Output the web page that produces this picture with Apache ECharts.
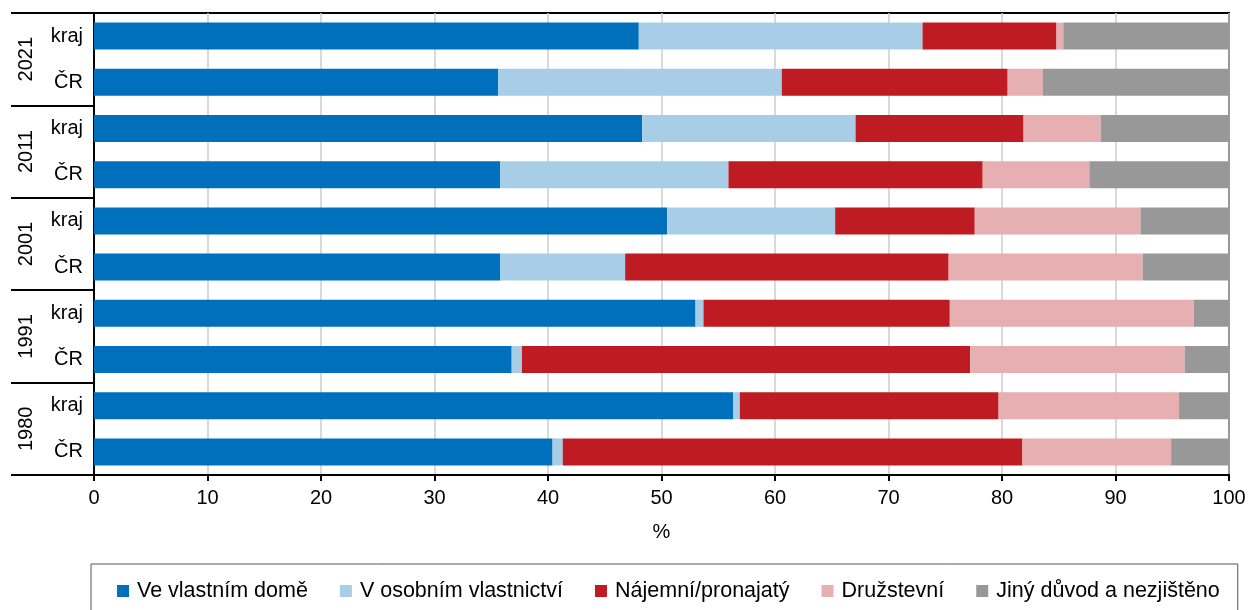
<!DOCTYPE html>
<html>
<head>
<meta charset="utf-8">
<script src="https://cdn.jsdelivr.net/npm/echarts@6/dist/echarts.min.js"></script>
<style>
  html, body { margin: 0; padding: 0; background: #fff; }
  #chart { width: 1248px; height: 610px; }
</style>
</head>
<body>
<div id="chart"></div>
<script>
// roky a uzemi (kazdy rok ma radek kraj a CR)
const years = ['2021', '2011', '2001', '1991', '1980'];
const regions = ['kraj', 'ČR'];

// podil v % podle pravniho duvodu uzivani bytu
const vlastniDum = [48.0, 35.6, 48.3, 35.8, 50.5, 35.8, 53.0, 36.8, 56.3, 40.4];
const osobniVlastnictvi = [25.0, 25.0, 18.8, 20.1, 14.8, 11.0, 0.7, 0.9, 0.6, 0.9];
const najemni = [11.8, 19.9, 14.8, 22.4, 12.3, 28.5, 21.7, 39.5, 22.8, 40.5];
const druzstevni = [0.6, 3.1, 6.8, 9.4, 14.6, 17.1, 21.5, 18.9, 15.9, 13.1];
const jiny = [14.6, 16.4, 11.3, 12.3, 7.8, 7.6, 3.1, 3.9, 4.4, 5.1];

const seriesNames = ['Ve vlastním domě', 'V osobním vlastnictví', 'Nájemní/pronajatý', 'Družstevní', 'Jiný důvod a nezjištěno'];
const seriesColors = ['#0070BD', '#A7CDE7', '#BE1B22', '#E6AFB2', '#989898'];

const font = 'Liberation Sans, Arial, sans-serif';

// kategorie "rok|uzemi", zobrazi se jen uzemi
let categories = [];
years.forEach(y => {
  regions.forEach(r => categories.push(y + '|' + r));
});

function makeSeries(name, values, color) {
  return {
    name: name,
    type: 'bar',
    stack: 'total',
    yAxisIndex: 0,
    barWidth: 27,
    itemStyle: { color: color },
    emphasis: { disabled: true },
    data: values
  };
}

var chart = echarts.init(document.getElementById('chart'), null, { renderer: 'canvas' });

var option = {
  animation: false,
  textStyle: { fontFamily: font },
  grid: {
    left: 94,
    right: 19,
    top: 13,
    bottom: 135,
    show: true,
    borderColor: '#000',
    borderWidth: 2,
    outerBoundsMode: 'none'
  },
  legend: {
    left: 91,
    top: 564,
    width: 1150,
    padding: [16, 18, 22, 26],
    itemGap: 32,
    itemWidth: 12,
    itemHeight: 12,
    icon: 'rect',
    borderColor: '#555',
    borderWidth: 1,
    selectedMode: false,
    textStyle: { fontSize: 21.5, color: '#000', fontFamily: font, padding: [0, 0, 0, 3] },
    data: seriesNames
  },
  xAxis: {
    type: 'value',
    min: 0,
    max: 100,
    interval: 10,
    name: '%',
    nameLocation: 'middle',
    nameGap: 47,
    nameTextStyle: { fontSize: 20, color: '#000', fontFamily: font },
    axisLine: { show: true, lineStyle: { color: '#000', width: 2 } },
    axisTick: { show: true, length: 6, lineStyle: { color: '#000', width: 2 } },
    axisLabel: { fontSize: 20, color: '#000', margin: 13, fontFamily: font },
    splitLine: { show: true, lineStyle: { color: '#cccccc', width: 1.5 } }
  },
  yAxis: [
    {
      type: 'category',
      inverse: true,
      data: categories,
      axisLine: { show: true, lineStyle: { color: '#000', width: 2 } },
      axisTick: { show: false },
      axisLabel: {
        fontSize: 20,
        color: '#000',
        margin: 11,
        fontFamily: font,
        formatter: v => v.split('|')[1]
      }
    },
    {
      // roky - otocene popisky a oddelovaci cary mezi skupinami
      type: 'category',
      inverse: true,
      position: 'left',
      data: years,
      axisLine: { show: false },
      axisTick: { show: true, length: 83, lineStyle: { color: '#000', width: 2 } },
      axisLabel: { fontSize: 20, color: '#000', rotate: 90, margin: 58, fontFamily: font },
      splitLine: { show: false }
    }
  ],
  series: [
    makeSeries(seriesNames[0], vlastniDum, seriesColors[0]),
    makeSeries(seriesNames[1], osobniVlastnictvi, seriesColors[1]),
    makeSeries(seriesNames[2], najemni, seriesColors[2]),
    makeSeries(seriesNames[3], druzstevni, seriesColors[3]),
    makeSeries(seriesNames[4], jiny, seriesColors[4])
  ]
};

chart.setOption(option);
</script>
</body>
</html>
